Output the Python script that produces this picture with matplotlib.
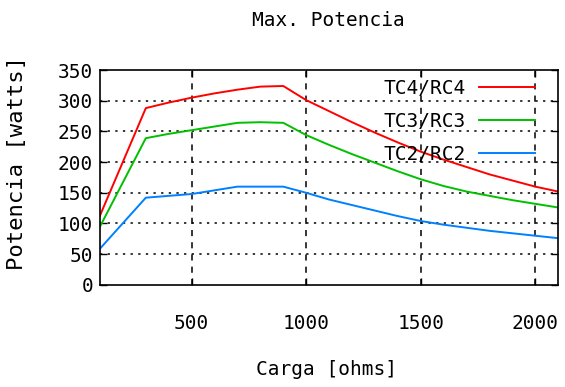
import numpy as np
import matplotlib
matplotlib.use("Agg")
import matplotlib.pyplot as plt

# datos (carga en ohms, potencia en watts)
carga = [100, 300, 400, 500, 600, 700, 800, 900, 1000, 1100, 1200, 1300,
         1400, 1500, 1600, 1700, 1800, 1900, 2000, 2100]
tc4 = [113, 288, 297, 305, 312, 318, 323, 324, 301, 283, 265, 248,
       232, 217, 204, 192, 180, 170, 160, 152]
tc3 = [95, 239, 246, 252, 258, 264, 265, 264, 244, 228, 213, 199,
       185, 172, 161, 152, 145, 138, 132, 126]
tc2 = [59, 142, 145, 148, 154, 160, 160, 160, 150, 139, 130, 121,
       112, 104, 98, 93, 88, 84, 80, 76]

etiquetas = ["TC4/RC4", "TC3/RC3", "TC2/RC2"]
colores = ["#ff0000", "#00c000", "#0080ff"]

plt.rcParams['font.family'] = ['DejaVu Sans Mono']

fig = plt.figure(figsize=(5.65, 3.87), dpi=100)
ax = fig.add_axes([0.177, 0.264, 0.811, 0.555])

for serie, lab, col in zip([tc4, tc3, tc2], etiquetas, colores):
    ax.plot(carga, serie, color=col, lw=1.4, label=lab)

ax.set_xlim(100, 2100)
ax.set_ylim(0, 350)
ax.set_xticks([500, 1000, 1500, 2000])
ax.set_yticks(np.arange(0, 351, 50))

# rejilla punteada como gnuplot
for yv in range(50, 350, 50):
    ax.axhline(yv, color='black', lw=1.1, ls=(0, (1.5, 3.5)), zorder=0)
for xv in [500, 1000, 1500, 2000]:
    ax.axvline(xv, color='black', lw=1.1, ls=(0, (4, 4)), zorder=0)

ax.tick_params(direction='in', top=True, right=True, length=5, width=1,
               labelsize=14)
ax.tick_params(axis='x', pad=21)
ax.tick_params(axis='y', pad=5)
for s in ax.spines.values():
    s.set_linewidth(1.2)

fig.text(0.582, 0.948, "Max. Potencia", fontsize=14, ha='center', va='center')
fig.text(0.577, 0.045, "Carga [ohms]", fontsize=14, ha='center', va='center')
fig.text(0.03, 0.58, "Potencia [watts]", fontsize=16,
         rotation=90, ha='center', va='center')

ax.legend(loc='upper right', frameon=False, markerfirst=False, fontsize=14,
          handlelength=2.9, handletextpad=0.7, labelspacing=0.72,
          borderaxespad=0.0, bbox_to_anchor=(0.967, 0.995))

plt.savefig("out.png", dpi=100)
plt.close()
